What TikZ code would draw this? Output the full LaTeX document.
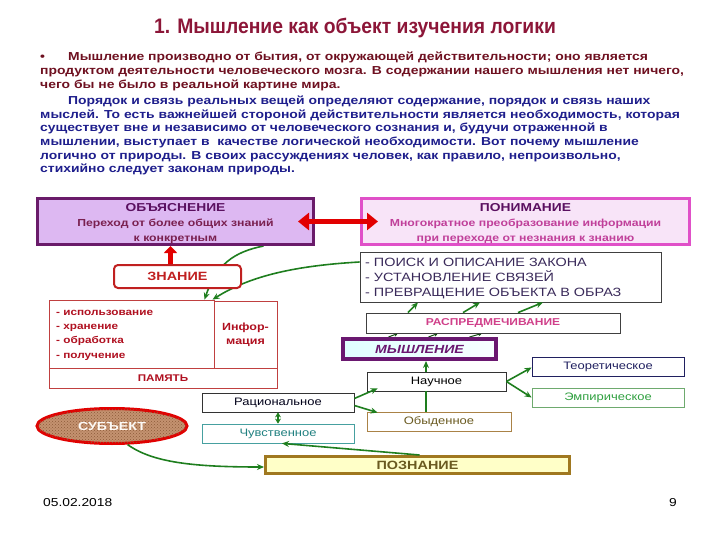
\documentclass[tikz,border=0pt]{standalone}
\usepackage{fontspec}
\setmainfont{Liberation Sans}[FakeStretch=1.2]
\newfontfamily\titlefont[FakeStretch=0.92]{Liberation Sans}
\usetikzlibrary{arrows.meta,shapes.geometric,calc,patterns}
\pgfdeclarelayer{bg}
\pgfsetlayers{bg,main}
\definecolor{titlered}{RGB}{140,22,56}
\definecolor{pone}{RGB}{110,16,32}
\definecolor{ptwo}{RGB}{30,30,140}
\definecolor{objfill}{RGB}{221,184,242}
\definecolor{objdraw}{RGB}{106,27,106}
\definecolor{objtitle}{RGB}{90,16,96}
\definecolor{objsub}{RGB}{122,32,80}
\definecolor{ponfill}{RGB}{248,228,248}
\definecolor{pondraw}{RGB}{224,80,200}
\definecolor{ponsub}{RGB}{192,64,154}
\definecolor{arrred}{RGB}{226,0,0}
\definecolor{znred}{RGB}{192,32,32}
\definecolor{memred}{RGB}{192,64,64}
\definecolor{memtext}{RGB}{176,16,32}
\definecolor{listtext}{RGB}{58,42,90}
\definecolor{rasptext}{RGB}{208,64,138}
\definecolor{myshdraw}{RGB}{106,24,112}
\definecolor{teortext}{RGB}{32,32,96}
\definecolor{empdraw}{RGB}{110,170,110}
\definecolor{emptext}{RGB}{48,160,64}
\definecolor{chuvdraw}{RGB}{70,160,160}
\definecolor{chuvtext}{RGB}{32,128,128}
\definecolor{obyddraw}{RGB}{170,130,70}
\definecolor{obydtext}{RGB}{106,90,32}
\definecolor{poznfill}{RGB}{255,255,200}
\definecolor{pozndraw}{RGB}{160,120,32}
\definecolor{subjfill}{RGB}{196,146,112}
\definecolor{subjdot}{RGB}{140,90,56}
\definecolor{grn}{RGB}{30,126,30}
\tikzset{
  para/.style={anchor=west, inner sep=0, text height=8.5pt, text depth=2.5pt, font=\fontsize{11.6}{14}\selectfont\bfseries},
  box/.style={draw, rectangle, inner sep=0, line width=0.8pt},
  smalltxt/.style={font=\fontsize{10.8}{12}\selectfont},
  garrow/.style={draw=grn, line width=1.6pt, -{Stealth[length=7pt,width=6pt]}},
  gline/.style={draw=grn, line width=1.6pt},
}
\begin{document}
\begin{tikzpicture}[x=1pt,y=-1pt]
\useasboundingbox (0,0) rectangle (720,540);

% title and text
\node[inner sep=0, text=titlered, font=\fontsize{21}{24}\selectfont\bfseries\titlefont] (title) at (355,28) {1. Мышление как объект изучения логики};
\node[para, text=pone] (bul) at (40,58) {•};
\node[para, text=pone] (p1a) at (68,58) {Мышление производно от бытия, от окружающей действительности; оно является};
\node[para, text=pone] (p1b) at (40,72) {продуктом деятельности человеческого мозга. В содержании нашего мышления нет ничего,};
\node[para, text=pone] (p1c) at (40,86) {чего бы не было в реальной картине мира.};
\node[para, text=ptwo] (p2a) at (68,102) {Порядок и связь реальных вещей определяют содержание, порядок и связь наших};
\node[para, text=ptwo] (p2b) at (40,116) {мыслей. То есть важнейшей стороной действительности является необходимость, которая};
\node[para, text=ptwo] (p2c) at (40,129) {существует вне и независимо от человеческого сознания и, будучи отраженной в};
\node[para, text=ptwo] (p2d) at (40,143) {мышлении, выступает в\ \ качестве логической необходимости. Вот почему мышление};
\node[para, text=ptwo] (p2e) at (40,157) {логично от природы. В своих рассуждениях человек, как правило, непроизвольно,};
\node[para, text=ptwo] (p2f) at (40,170) {стихийно следует законам природы.};

% top boxes
\node[box, draw=objdraw, fill=objfill, line width=3pt, minimum width=276pt, minimum height=46pt] (obj) at (175.5,221.5) {};
\node[inner sep=0, align=center, font=\fontsize{10.2}{15}\selectfont\bfseries] (objtxt) at (175.5,224)
  {\textcolor{objtitle}{\fontsize{11.5}{15}\selectfont ОБЪЯСНЕНИЕ}\\ \textcolor{objsub}{Переход от более общих знаний}\\ \textcolor{objsub}{к конкретным}};
\node[box, draw=pondraw, fill=ponfill, line width=3pt, minimum width=328pt, minimum height=46pt] (pon) at (525.5,221.5) {};
\node[inner sep=0, align=center, font=\fontsize{10.2}{15}\selectfont\bfseries] (pontxt) at (525.5,224)
  {\textcolor{objtitle}{\fontsize{11.5}{15}\selectfont ПОНИМАНИЕ}\\ \textcolor{ponsub}{Многократное преобразование информации}\\ \textcolor{ponsub}{при переходе от незнания к знанию}};

\node[box, draw=znred, fill=white, line width=2pt, rounded corners=4pt, minimum width=127pt, minimum height=23pt,
  text=znred, font=\fontsize{12}{14}\selectfont\bfseries] (zn) at (177.5,276.5) {ЗНАНИЕ};

% memory
\node[box, draw=memred, fill=white, minimum width=165pt, minimum height=68pt] (mem) at (131.5,334) {};
\node[box, draw=memred, fill=white, minimum width=63pt, minimum height=68pt, align=center, text=memtext,
  font=\fontsize{10.4}{14}\selectfont\bfseries] (info) at (245.5,335) {Инфор-\\мация};
\node[box, draw=memred, fill=white, minimum width=228pt, minimum height=20pt, text=memtext,
  font=\fontsize{9.7}{12}\selectfont\bfseries] (pam) at (163,378) {ПАМЯТЬ};
\node[anchor=west, inner sep=0, align=left, text=memtext, font=\fontsize{9.8}{14.3}\selectfont\bfseries] (memtxt) at (56,335)
  {- использование\\- хранение\\- обработка\\- получение};

% list box
\node[box, draw=black!75, fill=white, minimum width=301pt, minimum height=50pt] (list) at (510.5,277) {};
\node[anchor=west, inner sep=0, align=left, text=listtext, font=\fontsize{12}{15}\selectfont] (listtxt) at (365,278.5)
  {- ПОИСК И ОПИСАНИЕ ЗАКОНА\\- УСТАНОВЛЕНИЕ СВЯЗЕЙ\\- ПРЕВРАЩЕНИЕ ОБЪЕКТА В ОБРАЗ};

\node[box, draw=black!75, fill=white, minimum width=254pt, minimum height=20pt, text=rasptext,
  font=\fontsize{10}{12}\selectfont\bfseries] (rasp) at (493,323) {РАСПРЕДМЕЧИВАНИЕ};

\node[box, draw=myshdraw, line width=4pt, left color=cyan!12, right color=cyan!3, minimum width=153pt, minimum height=20pt,
  text=myshdraw, font=\fontsize{11.8}{14}\selectfont\bfseries\itshape] (mysh) at (419.5,349) {МЫШЛЕНИЕ};

\node[box, draw=black!80, fill=white, minimum width=139pt, minimum height=19pt, smalltxt] (nauch) at (436.5,381.5) {Научное};
\node[box, draw=teortext, fill=white, minimum width=152pt, minimum height=19pt, text=teortext, smalltxt] (teor) at (608,366.5) {Теоретическое};
\node[box, draw=empdraw, fill=white, minimum width=152pt, minimum height=19pt, text=emptext, smalltxt] (emp) at (608,397.5) {Эмпирическое};
\node[box, draw=obyddraw, fill=white, minimum width=144pt, minimum height=19pt, text=obydtext, smalltxt] (obyd) at (439,421.5) {Обыденное};
\node[box, draw=black!80, fill=white, minimum width=152pt, minimum height=19pt, text=black!90!blue, smalltxt] (rac) at (278,402.5) {Рациональное};
\node[box, draw=chuvdraw, fill=white, minimum width=152pt, minimum height=19pt, text=chuvtext, smalltxt] (chuv) at (278,433.5) {Чувственное};

\node[box, draw=pozndraw, fill=poznfill, line width=3pt, minimum width=304pt, minimum height=17pt, text=obydtext,
  font=\fontsize{12}{13}\selectfont\bfseries] (pozn) at (417.5,465) {ПОЗНАНИЕ};

\node[ellipse, draw=arrred, line width=3pt, fill=subjfill, postaction={pattern=crosshatch dots, pattern color=subjdot},
  minimum width=150pt, minimum height=35pt, inner sep=0,
  text=white!95!brown, font=\fontsize{11.8}{13}\selectfont\bfseries] (subj) at (112,426) {СУБЪЕКТ};

% footer
\node[anchor=west, inner sep=0, font=\fontsize{11.5}{14}\selectfont] (date) at (43,503) {05.02.2018};
\node[inner sep=0, font=\fontsize{11.5}{14}\selectfont] (page) at (673,503) {9};

% connectors
\draw[arrred, line width=5pt, {Triangle[length=11pt,width=17pt]}-{Triangle[length=11pt,width=17pt]}]
  ([xshift=-17pt]obj.east) -- ([xshift=18pt]pon.west);
\coordinate (znT) at ([xshift=-7pt]zn.north);
\draw[arrred, line width=4.5pt, -{Triangle[length=7pt,width=13pt]}] (znT) -- (znT |- obj.south);

\begin{pgfonlayer}{bg}
\draw[garrow] ([xshift=88pt]obj.south) .. controls +(-30,6) and +(12,-35) .. ([xshift=73pt]mem.north);
\draw[garrow] ([yshift=15pt]list.west) .. controls +(-70,4) and +(35,-22) .. ([xshift=81pt]mem.north);
\end{pgfonlayer}

\draw[garrow] ([xshift=-85pt]rasp.north) -- ([xshift=-92.5pt]list.south);
\draw[garrow] ([xshift=-30pt]rasp.north) -- ([xshift=-30.5pt]list.south);
\draw[garrow] ([xshift=25pt]rasp.north) -- ([xshift=32.5pt]list.south);

\begin{pgfonlayer}{bg}
\draw[draw=grn!60!black, line width=1pt, -{Stealth[length=4pt,width=4pt]}] ([xshift=-31pt]mysh.north) -- ([xshift=-95pt]rasp.south);
\draw[draw=grn!60!black, line width=1pt, -{Stealth[length=4pt,width=4pt]}] ([xshift=9pt]mysh.north) -- ([xshift=-55pt]rasp.south);
\draw[draw=grn!60!black, line width=1pt, -{Stealth[length=4pt,width=4pt]}] ([xshift=50pt]mysh.north) -- ([xshift=-11pt]rasp.south);
\end{pgfonlayer}

\coordinate (nT) at ([xshift=-10.5pt]nauch.north);
\draw[garrow, line width=2.5pt] (nT) -- (nT |- mysh.south);
\coordinate (oT) at ([xshift=-13pt]obyd.north);
\draw[gline, line width=2.5pt] (oT) -- (oT |- nauch.south);
\draw[garrow] (nauch.east) -- ([yshift=-1pt]teor.west);
\draw[garrow] (nauch.east) -- (emp.west);
\draw[garrow] ([yshift=4pt]rac.east) -- ([xshift=11pt,yshift=3pt]nauch.south west);
\draw[garrow] ([yshift=-3pt]rac.east) -- ([xshift=11pt,yshift=-1pt]obyd.north west);
\draw[draw=grn, line width=1.6pt, {Stealth[length=5pt,width=6pt]}-{Stealth[length=5pt,width=6pt]}] (rac.south) -- (chuv.north);
\draw[garrow] ([xshift=2pt]pozn.north) -- ([xshift=4pt]chuv.south);
\draw[garrow] (subj.-50) .. controls +(25,18) and +(-70,0) .. ([yshift=-2pt]pozn.west);
\end{tikzpicture}
\end{document}
